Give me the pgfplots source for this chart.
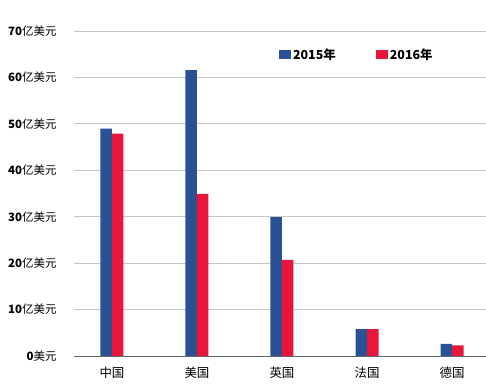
\documentclass[border=0pt]{standalone}
\usepackage{fontspec}
\setmainfont{Noto Sans CJK SC}
\usepackage{pgfplots}
\pgfplotsset{compat=1.18}
\definecolor{barblue}{RGB}{41,82,150}
\definecolor{barred}{RGB}{232,22,58}
\begin{document}
\begin{tikzpicture}
\useasboundingbox (-74bp,-36bp) rectangle (412bp,356bp);
\begin{axis}[
  at={(0,0)}, anchor=south west,
  width=412bp, height=325bp, scale only axis,
  xmin=-0.447, xmax=4.4, ymin=0, ymax=70,
  axis x line*=bottom, axis y line*=left,
  y axis line style={draw=none},
  x axis line style={draw=black!60, line width=0.8bp, -},
  ymajorgrids, grid style={gray!45, line width=0.8bp},
  ytick={0,10,...,70},
  yticklabels={\textbf{0}美元,\textbf{10}亿美元,\textbf{20}亿美元,\textbf{30}亿美元,\textbf{40}亿美元,\textbf{50}亿美元,\textbf{60}亿美元,\textbf{70}亿美元},
  ytick style={draw=none},
  yticklabel style={font=\fontsize{11.5}{13}\selectfont, xshift=-14bp},
  xtick={0,...,4},
  xticklabels={中国,美国,英国,法国,德国},
  xtick style={draw=none},
  xticklabel style={font=\fontsize{12.5}{14}\selectfont, yshift=-3bp},
  extra x ticks={-0.447,0.541,1.518,2.494,3.471},
  extra x tick labels={},
  extra x tick style={major tick length=3bp, tick align=outside, tick style={draw=black!60, line width=0.8bp}},
  ybar, bar width=11.5bp,
  legend style={at={(0.49,0.928)}, anchor=west, draw=none, fill=none,
    font=\bfseries\fontsize{12.5}{14}\selectfont,
    /tikz/every even column/.append style={column sep=38bp}},
  legend columns=2,
  legend image code/.code={\fill[#1] (0bp,-4.5bp) rectangle (12bp,4.5bp);},
]
\addplot[fill=barblue, draw=none, bar shift=-5.75bp] coordinates {(0,49.0) (1,61.6) (2,29.9) (3,5.8) (4,2.6)};
\addplot[fill=barred, draw=none, bar shift=5.75bp] coordinates {(0,47.9) (1,34.9) (2,20.7) (3,5.8) (4,2.3)};
\legend{2015年,2016年}
\end{axis}
\end{tikzpicture}
\end{document}
